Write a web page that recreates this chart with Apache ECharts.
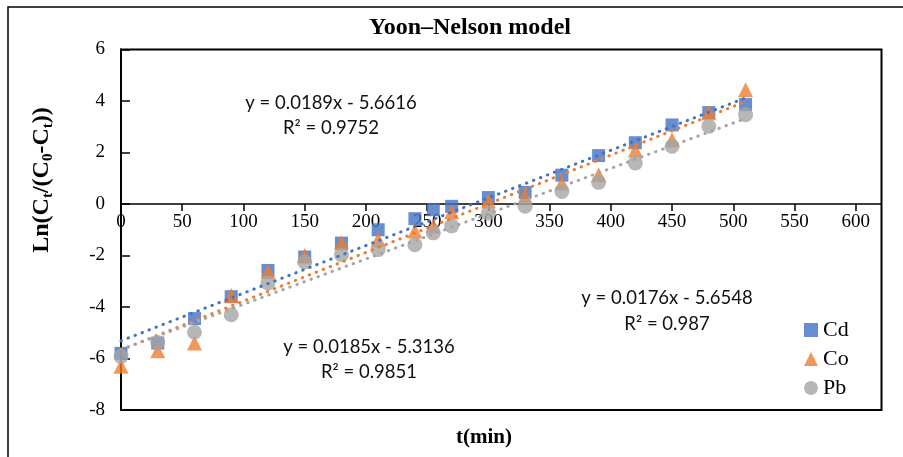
<!DOCTYPE html>
<html><head><meta charset="utf-8">
<script src="https://cdn.jsdelivr.net/npm/echarts@6/dist/echarts.min.js"></script>
<style>html,body{margin:0;padding:0;background:#fff}#c{width:903px;height:457px}</style>
</head><body><div id="c"></div>
<script>
const xVals = [0,30,60,90,120,150,180,210,240,255,270,300,330,360,390,420,450,480,510];
const cd = [-5.8,-5.4,-4.45,-3.6,-2.58,-2.06,-1.52,-1.0,-0.57,-0.22,-0.09,0.25,0.45,1.12,1.88,2.38,3.07,3.55,3.86];
const co = [-6.3,-5.7,-5.4,-3.55,-2.62,-2.0,-1.5,-1.38,-1.05,-0.85,-0.3,0.12,0.3,0.82,1.14,2.1,2.5,3.54,4.44];
const pb = [-5.92,-5.38,-4.98,-4.3,-3.07,-2.25,-1.97,-1.77,-1.58,-1.12,-0.85,-0.35,-0.09,0.49,0.84,1.59,2.24,3.02,3.47];
const seriesNames = ['Cd','Co','Pb'];
const eqSlope = [0.0185, 0.0189, 0.0176];
const eqIntercept = [-5.3136, -5.6616, -5.6548];
const eqSlopeText = ['0.0185','0.0189','0.0176'];
const eqInterceptText = ['5.3136','5.6616','5.6548'];
const eqR2 = ['0.9851','0.9752','0.987'];
const xTicks = [0,50,100,150,200,250,300,350,400,450,500,550,600];
const yMin = -8, yMax = 6;

const colors = ['#4472C4','#ED7D31','#A5A5A5'];
const symbols = ['rect','triangle','circle'];
const sizes = [13,15,15];
const vals = [cd, co, pb];

const W = 903, H = 457;
const gridL = 121, gridT = 49.5, gridR = 21.5, gridB = 47;
const plotH = H - gridT - gridB;
const zeroOffset = -(plotH * (0 - yMin) / (yMax - yMin));

const chart = echarts.init(document.getElementById('c'));
const series = [];
vals.forEach((arr,i)=>{
  series.push({
    name: seriesNames[i], type:'scatter', symbol: symbols[i], symbolSize: sizes[i],
    itemStyle:{color: colors[i]}, z: 2+i,
    data: xVals.map((x,k)=>[x, arr[k]])
  });
});
const xMin = Math.min(...xVals), xMax = Math.max(...xVals);
vals.forEach((arr,i)=>{
  series.push({
    name: seriesNames[i]+' trend', type:'line', symbol:'none', silent:true, z: 10,
    lineStyle:{color: colors[i], width:3, type:[0.5,7], cap:'round'},
    data: [[xMin, eqSlope[i]*xMin+eqIntercept[i]],[xMax, eqSlope[i]*xMax+eqIntercept[i]]]
  });
});

const eqFont = 'Lato, "Liberation Sans", sans-serif';
function eqText(x,y,t){
  return {type:'text', x:x, y:y, z:100, style:{text:t, fill:'#111', font:'18.5px '+eqFont, textAlign:'center', textVerticalAlign:'middle'}};
}
const eqPos = [[369,347,369,372],[331,103,331,128],[667,298,667,324]];

const graphics = [
  {type:'rect', shape:{x:8, y:7, width:1000, height:1000}, style:{fill:'none', stroke:'#000', lineWidth:1.5}},
  {type:'text', x:470, y:28, style:{text:'Yoon–Nelson model', fill:'#000', font:'bold 24px "Liberation Serif", serif', textAlign:'center', textVerticalAlign:'middle'}},
  {type:'text', x:484, y:438, style:{text:'t(min)', fill:'#000', font:'bold 21px "Liberation Serif", serif', textAlign:'center', textVerticalAlign:'middle'}},
  {type:'text', x:42, y:180, rotation:Math.PI/2,
    style:{text:'{a|Ln(C}{s|t}{a|/(C}{s|0}{a|-C}{s|t}{a|))}', textAlign:'center', textVerticalAlign:'middle',
      rich:{a:{font:'bold 24px "Liberation Serif", serif', fill:'#000'}, s:{font:'bold 15px "Liberation Serif", serif', fill:'#000', padding:[13,0,0,0]}}}}
];
eqPos.forEach((p,i)=>{
  graphics.push(eqText(p[0],p[1],'y = '+eqSlopeText[i]+'x - '+eqInterceptText[i]));
  graphics.push(eqText(p[2],p[3],'R² = '+eqR2[i]));
});

chart.setOption({
  animation:false,
  grid:{left:gridL, top:gridT, right:gridR, bottom:gridB, show:true, borderColor:'#000', borderWidth:2},
  xAxis:{type:'value', min:0, max:621, interval:50, offset: zeroOffset,
    axisLine:{onZero:false, lineStyle:{color:'#000', width:1.5}},
    axisTick:{show:true, length:7, customValues:xTicks, lineStyle:{color:'#000', width:1.5}},
    axisLabel:{customValues:xTicks, color:'#000', fontSize:19, fontFamily:'"Liberation Serif", serif', margin:9},
    splitLine:{show:false}},
  yAxis:{type:'value', min:yMin, max:yMax, interval:2,
    axisLine:{show:true, onZero:false, lineStyle:{color:'#000', width:2}},
    axisTick:{show:true, inside:true, length:9, lineStyle:{color:'#000', width:1.5}},
    axisLabel:{color:'#000', fontSize:19, fontFamily:'"Liberation Serif", serif', margin:16},
    splitLine:{show:false}},
  legend:{orient:'vertical', left:799, top:314, itemGap:7, itemWidth:14, itemHeight:14,
    data:seriesNames, textStyle:{fontSize:22, fontFamily:'"Liberation Serif", serif', color:'#000'}},
  series: series,
  graphic: graphics
});
</script></body></html>
